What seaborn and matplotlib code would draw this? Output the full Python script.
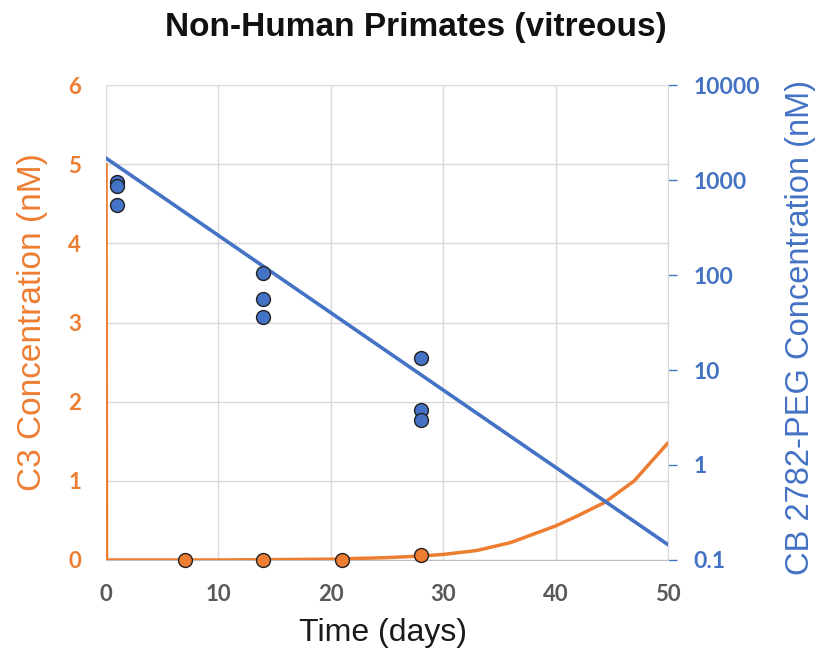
import matplotlib
matplotlib.use("Agg")
import matplotlib.pyplot as plt
import seaborn as sns
import pandas as pd
import numpy as np
from matplotlib.ticker import FixedLocator, NullLocator

# ---- data ----
c3_model_days = [0, 0.05, 10, 20, 25, 28, 30, 33, 36, 40, 42, 44.4, 47, 50]
c3_model_conc = [5.0, 0.0, 0.0, 0.01, 0.03, 0.05, 0.07, 0.12, 0.22, 0.43, 0.56, 0.73, 1.0, 1.48]
c3_obs_days = [7, 14, 21, 28]
c3_obs_conc = [0.0, 0.0, 0.0, 0.06]

cb_model_days = [0, 50]
cb_model_conc = [1700, 0.145]
cb_obs_days = [1, 1, 1, 14, 14, 14, 28, 28, 28]
cb_obs_conc = [950, 870, 550, 105, 56, 36, 13.4, 3.8, 3.0]

left_ticks = [0, 1, 2, 3, 4, 5, 6]
right_ticks = [0.1, 1, 10, 100, 1000, 10000]
right_tick_labels = ["0.1", "1", "10", "100", "1000", "10000"]
x_ticks = [0, 10, 20, 30, 40, 50]

ORANGE = "#ED7D31"
BLUE = "#4472C4"
GRAY = "#595959"
ARIAL = ["Liberation Sans", "DejaVu Sans"]

sns.set_style("white")
plt.rcParams["font.family"] = ["Lato", "DejaVu Sans"]

fig = plt.figure(figsize=(8.18, 6.51), dpi=100)
ax = fig.add_axes([0.1296, 0.1398, 0.687, 0.7296])
ax2 = ax.twinx()

# orange (left axis)
sns.lineplot(x=c3_model_days, y=c3_model_conc, ax=ax, color=ORANGE, lw=2.5, sort=False, zorder=3)
sns.scatterplot(x=c3_obs_days, y=c3_obs_conc, ax=ax, color=ORANGE, s=100, edgecolor="#222222",
                linewidth=1.0, zorder=4, clip_on=False)

# blue (right axis, log)
sns.lineplot(x=cb_model_days, y=cb_model_conc, ax=ax2, color=BLUE, lw=2.6, zorder=3)
sns.scatterplot(x=cb_obs_days, y=cb_obs_conc, ax=ax2, color=BLUE, s=100, edgecolor="#222222",
                linewidth=1.0, zorder=4)

ax.set_xlim(0, 50)
ax.set_ylim(0, 6)
ax2.set_yscale("log")
ax2.set_ylim(0.1, 10000)

ax.set_xticks(x_ticks)
ax.set_yticks(left_ticks)
ax2.yaxis.set_major_locator(FixedLocator(right_ticks))
ax2.yaxis.set_minor_locator(NullLocator())
ax2.set_yticklabels(right_tick_labels)

ax.grid(True, color="#d9d9d9", lw=1.0)
ax.set_axisbelow(True)

for a in (ax, ax2):
    for s in a.spines.values():
        s.set_visible(False)
ax.spines["bottom"].set_visible(True)
ax.spines["bottom"].set_color("#bfbfbf")
ax2.spines["right"].set_visible(True)
ax2.spines["right"].set_color("#d9d9d9")

ax.tick_params(axis="x", colors=GRAY, labelsize=16, length=0, pad=17)
ax.tick_params(axis="y", colors=ORANGE, labelsize=16, length=0, pad=18)
ax2.tick_params(axis="y", colors=BLUE, labelsize=16.5, length=6.5, width=1, pad=12)
for t in ax2.yaxis.get_ticklines():
    t.set_color("#bfbfbf")
for lab in ax.get_xticklabels():
    lab.set_fontweight("bold"); lab.set_color(GRAY)
for lab in ax.get_yticklabels():
    lab.set_fontweight("bold"); lab.set_color(ORANGE)
for lab in ax2.get_yticklabels():
    lab.set_fontweight("bold"); lab.set_color(BLUE)

fig.text(383 / 818, 0.028, "Time (days)", fontsize=23, color="#1a1a1a", family=ARIAL,
         ha="center", va="center")
fig.text(33 / 818, 0.506, "C3 Concentration (nM)", fontsize=24, color=ORANGE, family=ARIAL,
         ha="center", va="center", rotation=90)
fig.text(800 / 818, 0.497, "CB 2782-PEG Concentration (nM)", fontsize=23.5, color=BLUE, family=ARIAL,
         ha="center", va="center", rotation=90)

fig.text(0.508, 0.957, "Non-Human Primates (vitreous)", fontsize=24, fontweight="bold",
         family=ARIAL, ha="center", va="center", color="#111111")

fig.savefig("out.png", dpi=100)
